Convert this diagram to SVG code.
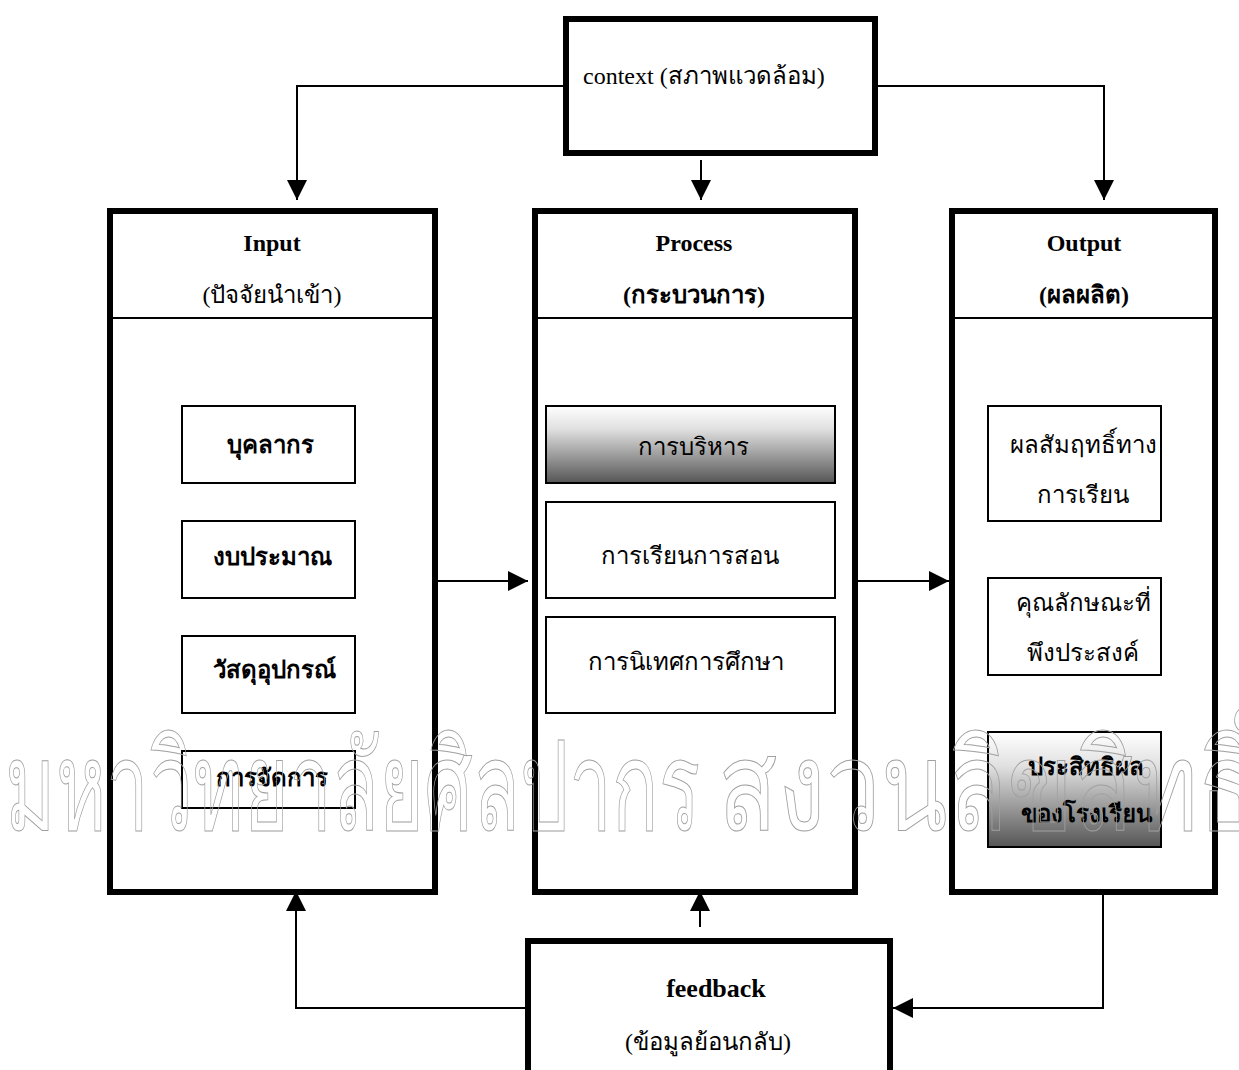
<svg xmlns="http://www.w3.org/2000/svg" width="1239" height="1070" viewBox="0 0 1239 1070">
<style>
text{font-family:'Liberation Serif',serif;fill:#000;}
.t{font-size:24px;}
.b{font-weight:bold;}
.m{text-anchor:middle;}
.th{font-size:24px;}
.big{fill:#fff;stroke:#000;stroke-width:6;}
.sm{fill:#fff;stroke:#000;stroke-width:2;}
.ln{fill:none;stroke:#000;stroke-width:2;}
.wm{font-size:124px;font-weight:normal;fill:none;stroke:#a0a0a0;stroke-width:1;}
</style>
<defs>
<linearGradient id="g1" x1="0" y1="0" x2="0" y2="1">
<stop offset="0" stop-color="#ffffff"/>
<stop offset="0.3" stop-color="#e0e0e0"/>
<stop offset="1" stop-color="#555555"/>
</linearGradient>
<marker id="ah" viewBox="0 0 20 20" refX="20" refY="10" markerWidth="20" markerHeight="20" markerUnits="userSpaceOnUse" orient="auto">
<path d="M0,0 L20,10 L0,20 Z" fill="#000"/>
</marker>
</defs>
<rect width="1239" height="1070" fill="#fff"/>

<g id="connectors">
<polyline class="ln" points="563,86 297,86 297,200" marker-end="url(#ah)"/>
<polyline class="ln" points="877,86 1104,86 1104,200" marker-end="url(#ah)"/>
<line class="ln" x1="701" y1="160" x2="701" y2="200" marker-end="url(#ah)"/>
<line class="ln" x1="430" y1="581" x2="528" y2="581" marker-end="url(#ah)"/>
<line class="ln" x1="857" y1="581" x2="949" y2="581" marker-end="url(#ah)"/>
<polyline class="ln" points="528,1008 296,1008 296,891" marker-end="url(#ah)"/>
<line class="ln" x1="700" y1="927" x2="700" y2="891" marker-end="url(#ah)"/>
<polyline class="ln" points="1103,890 1103,1008 893,1008" marker-end="url(#ah)"/>
</g>

<g id="context">
<rect class="big" x="566" y="19" width="309" height="134"/>
<text class="t" x="583" y="84">context (สภาพแวดล้อม)</text>
</g>

<g id="input">
<rect class="big" x="110" y="211" width="325" height="681"/>
<line x1="110" y1="318" x2="435" y2="318" stroke="#000" stroke-width="2"/>
<text class="t b m" x="272" y="251">Input</text>
<text class="t m" x="272" y="303">(ปัจจัยนำเข้า)</text>
<g id="in1"><rect class="sm" x="182" y="406" width="173" height="77"/><text class="th b m" x="270" y="453">บุคลากร</text></g>
<g id="in2"><rect class="sm" x="182" y="521" width="173" height="77"/><text class="th b m" x="272" y="565">งบประมาณ</text></g>
<g id="in3"><rect class="sm" x="182" y="636" width="173" height="77"/><text class="th b m" x="274" y="678">วัสดุอุปกรณ์</text></g>
<g id="in4"><rect class="sm" x="182" y="751" width="173" height="57"/><text class="th b m" x="272" y="786">การจัดการ</text></g>
</g>

<g id="process">
<rect class="big" x="535" y="211" width="320" height="681"/>
<line x1="535" y1="318" x2="855" y2="318" stroke="#000" stroke-width="2"/>
<text class="t b m" x="694" y="251">Process</text>
<text class="t b m" x="694" y="303">(กระบวนการ)</text>
<g id="pr1"><rect class="sm" x="546" y="406" width="289" height="77" style="fill:url(#g1)"/><text class="th m" x="693" y="455">การบริหาร</text></g>
<g id="pr2"><rect class="sm" x="546" y="502" width="289" height="96"/><text class="th m" x="690" y="564">การเรียนการสอน</text></g>
<g id="pr3"><rect class="sm" x="546" y="617" width="289" height="96"/><text class="th m" x="686" y="670">การนิเทศการศึกษา</text></g>
</g>

<g id="output">
<rect class="big" x="952" y="211" width="263" height="681"/>
<line x1="952" y1="318" x2="1215" y2="318" stroke="#000" stroke-width="2"/>
<text class="t b m" x="1084" y="251">Output</text>
<text class="t b m" x="1084" y="303">(ผลผลิต)</text>
<g id="out1"><rect class="sm" x="988" y="406" width="173" height="115"/><text class="th m" x="1083" y="453">ผลสัมฤทธิ์ทาง</text><text class="th m" x="1083" y="503">การเรียน</text></g>
<g id="out2"><rect class="sm" x="988" y="578" width="173" height="97"/><text class="th m" x="1083" y="611">คุณลักษณะที่</text><text class="th m" x="1083" y="661">พึงประสงค์</text></g>
<g id="out3"><rect class="sm" x="988" y="732" width="173" height="115" style="fill:url(#g1)"/><text class="th b m" x="1086" y="775">ประสิทธิผล</text><text class="th b m" x="1086" y="822">ของโรงเรียน</text></g>
</g>

<g id="feedback">
<rect class="big" x="528" y="941" width="362" height="140"/>
<text class="t b m" x="716" y="997" style="font-size:26px">feedback</text>
<text class="t m" x="708" y="1050">(ข้อมูลย้อนกลับ)</text>
</g>

<g id="watermark">
<text class="wm" x="5" y="830" textLength="695" lengthAdjust="spacingAndGlyphs">มหาวิทยาลัยศิลปากร</text>
<text class="wm" x="718" y="830" textLength="540" lengthAdjust="spacingAndGlyphs">สงวนลิขสิทธิ์</text>
</g>
</svg>
